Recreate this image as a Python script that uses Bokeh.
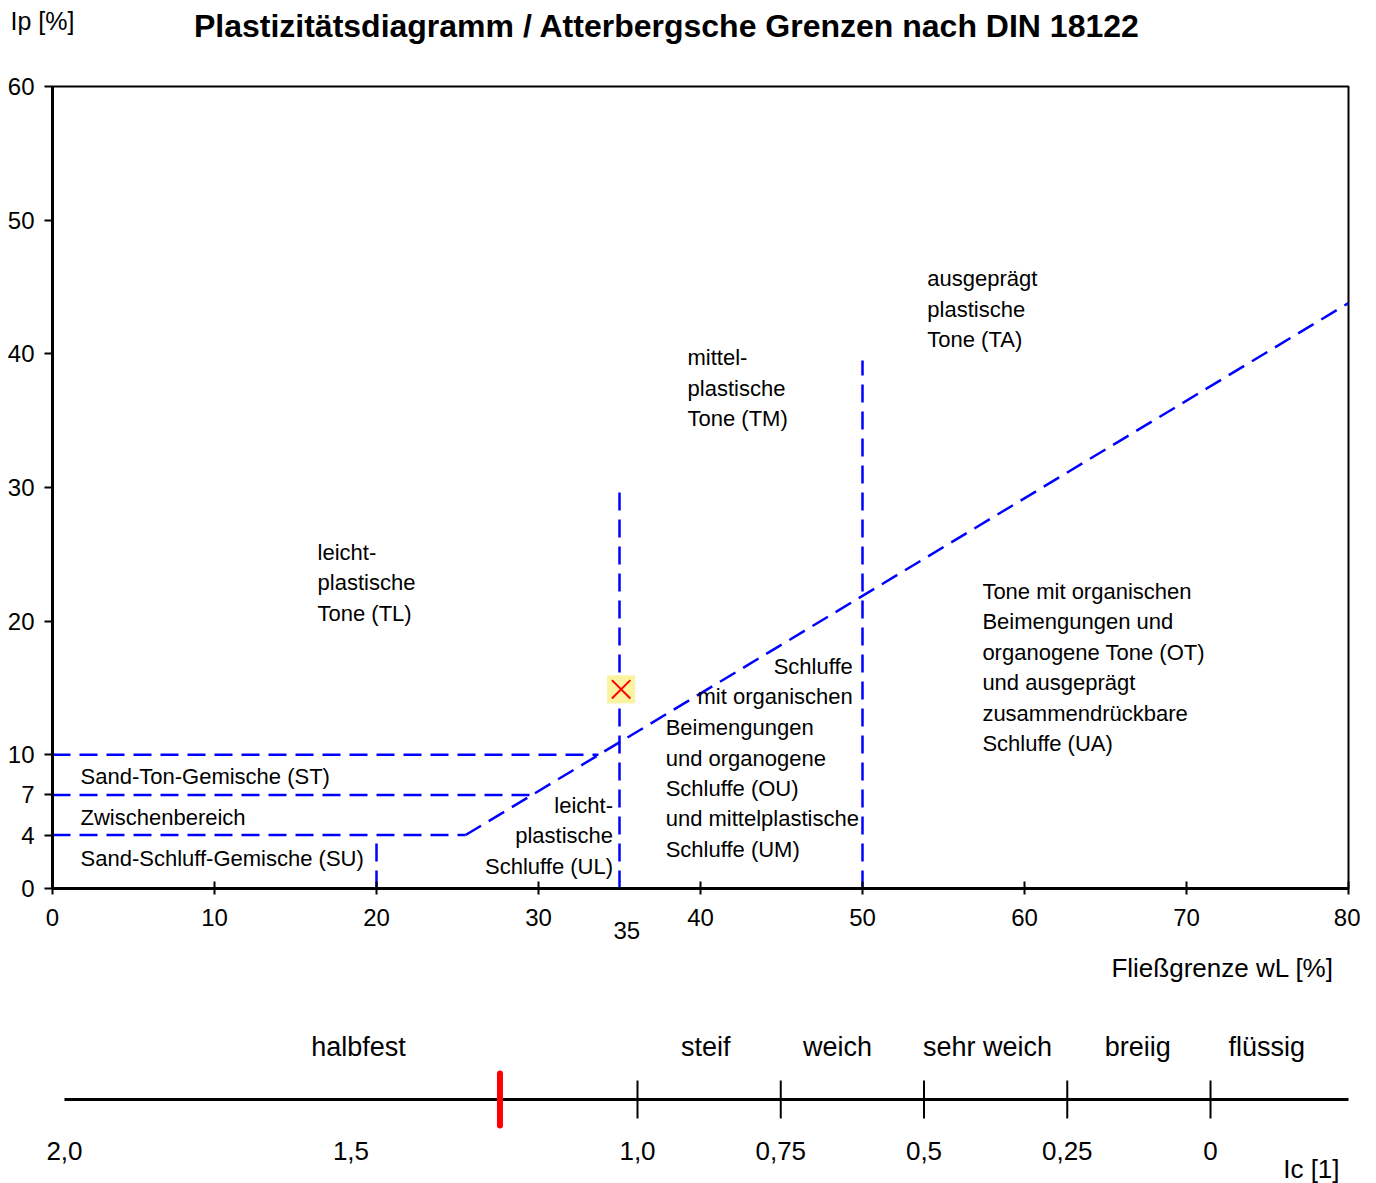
from bokeh.plotting import figure
from bokeh.models import Range1d, FixedTicker, Label
from bokeh.layouts import column
from bokeh.embed import file_html
from bokeh.resources import INLINE
from bokeh.core.properties import value

# ---------------- data ----------------
x_ticks = [0, 10, 20, 30, 40, 50, 60, 70, 80]
y_ticks = [0, 4, 7, 10, 20, 30, 40, 50, 60]

# A-line (Ip = 0.73 (wL - 20)), end points
a_line_wl = [25.5, 80.0]
a_line_ip = [4.0, 43.8]

# horizontal boundaries Ip = 4, 7, 10 ending at the A-line
boundary_ip = [4, 7, 10]
boundary_end_wl = [25.5, 29.6, 33.7]

# vertical boundaries wL = 20, 35, 50
vertical_wl = [20, 35, 50]
vertical_top_ip = [3.6, 30, 39.5]

# sample point
sample_wl = [35.1]
sample_ip = [14.9]

# consistency scale
ic_scale_ends = [2.0, -0.25]
ic_ticks = [1.0, 0.75, 0.5, 0.25, 0.0]
ic_label_pos = [1.5, 1.0, 0.75, 0.5, 0.25, 0.0]
ic_labels = ["1,5", "1,0", "0,75", "0,5", "0,25", "0"]
ic_first_pos = 2.0
ic_first_label = "2,0"
states = ["halbfest", "steif", "weich", "sehr weich", "breiig", "flüssig"]
state_pos = [1.487, 0.881, 0.651, 0.389, 0.127, -0.098]
sample_ic = [1.24]

FONT = "Liberation Sans"
BLUE = "#0000FF"

# ---------------- main diagram ----------------
p = figure(frame_width=1296, frame_height=802,
           x_range=Range1d(0, 80), y_range=Range1d(0, 60),
           output_backend="svg", toolbar_location=None, title=None,
           min_border_left=52, min_border_right=12,
           min_border_top=86, min_border_bottom=112,
           background_fill_color="white", border_fill_color="white")
p.grid.visible = False
p.outline_line_color = "black"
p.outline_line_width = 2

for ax in (p.xaxis[0], p.yaxis[0]):
    ax.axis_line_width = 3
    ax.axis_line_color = "black"
    ax.major_tick_line_width = 2
    ax.major_tick_line_color = "black"
    ax.minor_tick_line_color = None
    ax.major_label_text_font = FONT
    ax.major_label_text_font_size = "24px"
    ax.major_label_text_color = "black"

p.xaxis.ticker = FixedTicker(ticks=x_ticks)
p.xaxis.major_tick_in = 7
p.xaxis.major_tick_out = 6
p.xaxis.major_label_standoff = 14
p.yaxis.ticker = FixedTicker(ticks=y_ticks)
p.yaxis.major_tick_in = 0
p.yaxis.major_tick_out = 8
p.yaxis.major_label_standoff = 10

dash = "18 9"
p.line(x=a_line_wl, y=a_line_ip, line_color=BLUE, line_width=2.5, line_dash=dash)
p.segment(x0=[0] * len(boundary_ip), y0=boundary_ip, x1=boundary_end_wl, y1=boundary_ip,
          line_color=BLUE, line_width=2.5, line_dash=dash)
p.segment(x0=vertical_wl, y0=[0] * len(vertical_wl), x1=vertical_wl, y1=vertical_top_ip,
          line_color=BLUE, line_width=2.5, line_dash=dash)

p.scatter(x=sample_wl, y=sample_ip, marker="square", size=28,
          fill_color="#FBF3A0", line_color=None)
p.scatter(x=sample_wl, y=sample_ip, marker="x", size=26,
          line_color="red", line_width=2)

STEP = 2.28  # line spacing (data units of Ip)


def mk(x, y, t, align="left", size="22px", bold=False):
    return Label(x=x, y=y, text=t, text_align=align, text_baseline="middle",
                 text_font=FONT, text_font_size=size, text_color="black",
                 text_font_style="bold" if bold else "normal")


def lines(fig, x, y_top, texts, align="left", size="22px", step=STEP):
    for i, t in enumerate(texts):
        fig.add_layout(mk(x, y_top - i * step, t, align, size))


lines(p, 16.36, 25.14, ["leicht-", "plastische", "Tone (TL)"])
lines(p, 39.2, 39.72, ["mittel-", "plastische", "Tone (TM)"])
lines(p, 54.0, 45.63, ["ausgeprägt", "plastische", "Tone (TA)"])
lines(p, 57.4, 22.22, ["Tone mit organischen", "Beimengungen und",
                       "organogene Tone (OT)", "und ausgeprägt",
                       "zusammendrückbare", "Schluffe (UA)"])
lines(p, 49.4, 16.61, ["Schluffe", "mit organischen"], align="right", step=2.25)
lines(p, 37.85, 12.04, ["Beimengungen", "und organogene", "Schluffe (OU)",
                        "und mittelplastische", "Schluffe (UM)"])
lines(p, 34.6, 6.21, ["leicht-", "plastische", "Schluffe (UL)"], align="right")
lines(p, 1.73, 8.38, ["Sand-Ton-Gemische (ST)"])
lines(p, 1.73, 5.31, ["Zwischenbereich"])
lines(p, 1.73, 2.24, ["Sand-Schluff-Gemische (SU)"])

# texts outside the frame go into side panels (not clipped)
p.add_layout(mk(35.45, -3.14, "35", "center", "24px"), "below")
p.add_layout(mk(79.1, -5.98, "Fließgrenze wL [%]", "right", "26px"), "below")
p.add_layout(mk(-2.59, 64.92, "Ip [%]", "left", "25px"), "above")
p.add_layout(mk(37.93, 64.5, "Plastizitätsdiagramm / Atterbergsche Grenzen nach DIN 18122",
                "center", "32px", bold=True), "above")

# ---------------- consistency scale ----------------
q = figure(frame_width=1296, frame_height=175,
           x_range=Range1d(2.0209, -0.2408), y_range=Range1d(-76, 99),
           x_axis_type=None, y_axis_type=None,
           output_backend="svg", toolbar_location=None, title=None,
           min_border_left=52, min_border_right=12, min_border_top=0, min_border_bottom=0,
           background_fill_color="white", border_fill_color="white")
q.grid.visible = False
q.outline_line_color = None

q.line(x=ic_scale_ends, y=[0, 0], line_color="black", line_width=3)
q.segment(x0=ic_ticks, y0=[-19] * len(ic_ticks), x1=ic_ticks, y1=[19] * len(ic_ticks),
          line_color="black", line_width=2)
q.segment(x0=sample_ic, y0=[-26], x1=sample_ic, y1=[26], line_color="red",
          line_width=6, line_cap="round")
q.text(x=state_pos, y=[53] * len(states), text=states, text_align="center",
       text_baseline="middle", text_font=value(FONT), text_font_size=value("27px"),
       text_color="black")
q.text(x=ic_label_pos, y=[-51] * len(ic_labels), text=ic_labels, text_align="center",
       text_baseline="middle", text_font=value(FONT), text_font_size=value("26px"),
       text_color="black")
q.add_layout(mk(ic_first_pos, -51, ic_first_label, "center", "26px"), "left")
q.add_layout(mk(-0.176, -69, "Ic [1]", "center", "26px"), "below")

layout = column(p, q)
open("out.html", "w").write(file_html(layout, INLINE))
